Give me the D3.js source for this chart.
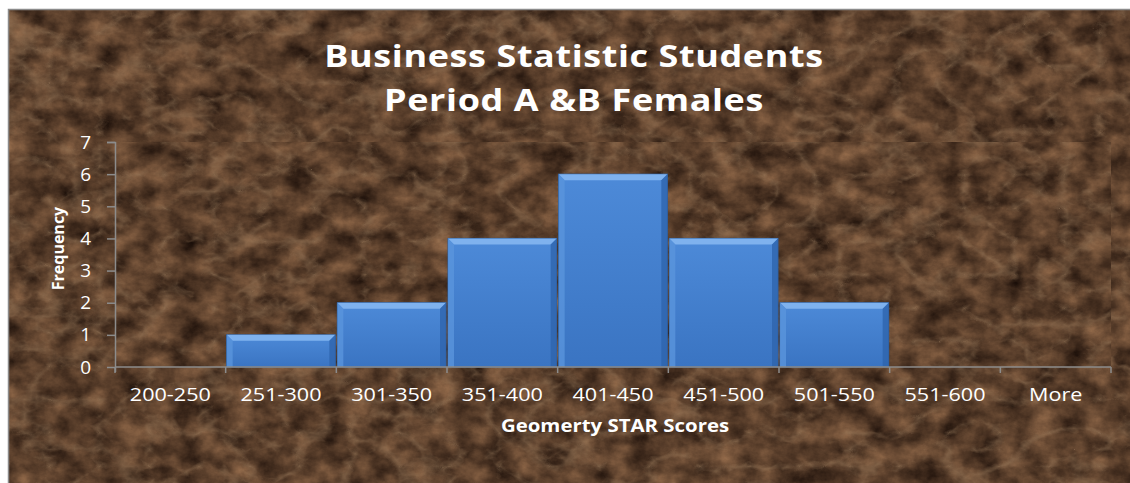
<!DOCTYPE html>
<html>
<head>
<meta charset="utf-8">
<script src="https://cdn.jsdelivr.net/npm/d3@7/dist/d3.min.js"></script>
<style>
  body { margin: 0; background: #fff; }
  svg { display: block; }
  text { fill: #fff; }
</style>
</head>
<body>
<div id="chart"></div>
<script>
// data
var categories = ["200-250", "251-300", "301-350", "351-400", "401-450", "451-500", "501-550", "551-600", "More"];
var frequency = [0, 1, 2, 4, 6, 4, 2, 0, 0];
var yTicks = [0, 1, 2, 3, 4, 5, 6, 7];
var titleLines = ["Business Statistic Students", "Period A &B Females"];

var svgWidth = 1130;
var svgHeight = 483;

var margin = { top: 142, right: 19, bottom: 116, left: 115 };
var width = svgWidth - margin.left - margin.right;
var height = svgHeight - margin.top - margin.bottom;

var svg = d3.select("#chart")
    .append("svg")
    .attr("width", svgWidth)
    .attr("height", svgHeight);

var defs = svg.append("defs");

// mottled brown marble: soft noise plus thin light veins
function marble(id, seed) {
    var f = defs.append("filter").attr("id", id)
        .attr("color-interpolation-filters", "sRGB")
        .attr("x", 0).attr("y", 0).attr("width", "100%").attr("height", "100%");
    f.append("feTurbulence")
        .attr("type", "fractalNoise")
        .attr("baseFrequency", "0.035 0.045")
        .attr("numOctaves", 5)
        .attr("seed", seed)
        .attr("result", "n");
    f.append("feColorMatrix")
        .attr("in", "n")
        .attr("type", "matrix")
        .attr("values", "0.55 0 0 0 0.07  0.42 0 0 0 0.03  0.3 0 0 0 0.015  0 0 0 0 1")
        .attr("result", "base");
    f.append("feTurbulence")
        .attr("type", "turbulence")
        .attr("baseFrequency", "0.02 0.03")
        .attr("numOctaves", 4)
        .attr("seed", seed + 5)
        .attr("result", "t");
    f.append("feColorMatrix")
        .attr("in", "t")
        .attr("type", "matrix")
        .attr("values", "0 0 0 0 0.6  0 0 0 0 0.48  0 0 0 0 0.36  -1.8 0 0 0 0.5")
        .attr("result", "veins");
    f.append("feMerge").call(m => {
        m.append("feMergeNode").attr("in", "base");
        m.append("feMergeNode").attr("in", "veins");
    });
}
marble("marbleA", 3);
marble("marbleB", 11);

var barGrad = defs.append("linearGradient").attr("id", "barGrad")
    .attr("x1", 0).attr("y1", 0).attr("x2", 0).attr("y2", 1);
barGrad.append("stop").attr("offset", "0%").attr("stop-color", "#4d8ad8");
barGrad.append("stop").attr("offset", "100%").attr("stop-color", "#3a74c2");

// chart area
svg.append("rect")
    .attr("x", 8).attr("y", 9)
    .attr("width", svgWidth - 8).attr("height", svgHeight - 9)
    .attr("fill", "#3c2414")
    .attr("filter", "url(#marbleA)");
svg.append("path")
    .attr("d", `M8.5,${svgHeight} V9.5 H${svgWidth}`)
    .attr("fill", "none")
    .attr("stroke", "#8a8a8a")
    .attr("stroke-width", 1.5);

var chartGroup = svg.append("g")
    .attr("transform", `translate(${margin.left}, ${margin.top})`);

// plot area
chartGroup.append("rect")
    .attr("width", width).attr("height", height)
    .attr("fill", "#3c2414")
    .attr("filter", "url(#marbleB)");

var xScale = d3.scaleBand()
    .domain(categories)
    .range([0, width])
    .padding(0);

var yScale = d3.scaleLinear()
    .domain([0, 7])
    .range([height, 0]);

// bars
var bev = 6;
var bars = chartGroup.selectAll(".bar")
    .data(categories.map((c, i) => ({ cat: c, val: frequency[i] })).filter(d => d.val > 0))
    .enter()
    .append("g")
    .attr("class", "bar");

bars.append("rect")
    .attr("x", d => xScale(d.cat) + 1)
    .attr("y", d => yScale(d.val))
    .attr("width", xScale.bandwidth() - 2)
    .attr("height", d => height - yScale(d.val))
    .attr("fill", "url(#barGrad)")
    .attr("stroke", "#2f5f9e")
    .attr("stroke-width", 1);

// top bevel
bars.append("path")
    .attr("d", function(d) {
        var x0 = xScale(d.cat) + 1, x1 = x0 + xScale.bandwidth() - 2, y0 = yScale(d.val);
        return `M${x0},${y0} H${x1} L${x1 - bev},${y0 + bev} H${x0 + bev} Z`;
    })
    .attr("fill", "#7fb2ee");
// side bevels
bars.append("path")
    .attr("d", function(d) {
        var x0 = xScale(d.cat) + 1, y0 = yScale(d.val);
        return `M${x0},${y0} L${x0 + bev},${y0 + bev} V${height} H${x0} Z`;
    })
    .attr("fill", "#5a95dc").attr("opacity", 0.8);
bars.append("path")
    .attr("d", function(d) {
        var x1 = xScale(d.cat) + xScale.bandwidth() - 1, y0 = yScale(d.val);
        return `M${x1},${y0} L${x1 - bev},${y0 + bev} V${height} H${x1} Z`;
    })
    .attr("fill", "#2e64ad").attr("opacity", 0.8);

// axes
var bottomAxis = d3.axisBottom(xScale).tickSize(0).tickPadding(0);
var leftAxis = d3.axisLeft(yScale).tickValues(yTicks).tickFormat(d3.format("d"))
    .tickSize(8).tickPadding(16);

var yAxisG = chartGroup.append("g").call(leftAxis);
yAxisG.select(".domain").attr("stroke", "#8c8c8c").attr("stroke-width", 1.5)
    .attr("d", `M-8,0.5H0.5V${height + 5}`);
yAxisG.selectAll(".tick line").attr("stroke", "#8c8c8c").attr("stroke-width", 1.5);
yAxisG.selectAll(".tick text")
    .attr("fill", "#fff")
    .style("font-family", "'Open Sans', sans-serif")
    .style("font-size", "19px");

var xAxisG = chartGroup.append("g")
    .attr("transform", `translate(0, ${height})`)
    .call(bottomAxis);
xAxisG.select(".domain").attr("stroke", "#8c8c8c").attr("stroke-width", 1.5)
    .attr("d", `M0,0H${width}`);
xAxisG.selectAll(".tick text")
    .attr("fill", "#fff")
    .attr("dy", 0)
    .attr("y", 34)
    .attr("transform", "scale(1.2,1)")
    .style("font-family", "'Open Sans', sans-serif")
    .style("font-size", "18px");

// category boundary ticks
xAxisG.selectAll(".bound")
    .data(d3.range(categories.length + 1))
    .enter()
    .append("line")
    .attr("class", "bound")
    .attr("x1", i => i < categories.length ? xScale(categories[i]) : width)
    .attr("x2", i => i < categories.length ? xScale(categories[i]) : width)
    .attr("y1", 0).attr("y2", 6)
    .attr("stroke", "#8c8c8c").attr("stroke-width", 1.5);

// title
svg.append("g")
    .attr("transform", "translate(574,0) scale(1.2,1)")
    .append("text")
    .attr("text-anchor", "middle")
    .style("font-family", "'Open Sans', sans-serif")
    .style("font-weight", "bold")
    .style("font-size", "30px")
    .style("letter-spacing", "0.5px")
    .selectAll("tspan")
    .data(titleLines)
    .enter()
    .append("tspan")
    .attr("x", 0)
    .attr("y", (d, i) => 67 + i * 44)
    .text(d => d);

// axis labels
svg.append("text")
    .attr("transform", `translate(64, ${margin.top + height / 2 - 6}) rotate(-90)`)
    .attr("text-anchor", "middle")
    .style("font-family", "'Open Sans', sans-serif")
    .style("font-weight", "bold")
    .style("font-size", "16px")
    .text("Frequency");

svg.append("g")
    .attr("transform", "translate(615,432) scale(1.2,1)")
    .append("text")
    .attr("text-anchor", "middle")
    .style("font-family", "'Open Sans', sans-serif")
    .style("font-weight", "bold")
    .style("font-size", "17px")
    .text("Geomerty STAR Scores");
</script>
</body>
</html>
